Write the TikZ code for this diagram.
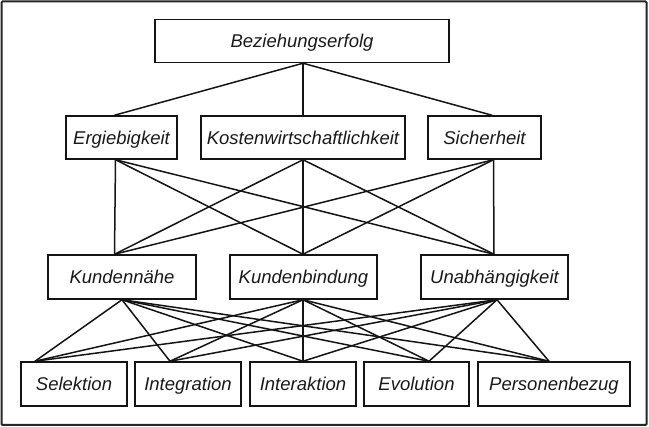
\documentclass[tikz,border=0pt]{standalone}
\usepackage{fontspec}
\setmainfont{Liberation Sans}
\begin{document}
\begin{tikzpicture}[x=1pt,y=-1pt,
  box/.style={draw=black!92, line width=1.5pt, rectangle, inner sep=0pt,
    text height=13.5pt, text depth=0pt,
    minimum height=43pt, font=\fontsize{18.5}{20}\selectfont\itshape, text=black!90},
  link/.style={draw=black!92, line width=1.5pt}]
\useasboundingbox (0,0) rectangle (649,427);
\draw[line width=2pt, black!85, rounded corners=1pt] (1.5,1.5) rectangle (646.5,425);
% top
\node[box, minimum width=294pt] (bez) at (302,41) {Beziehungserfolg};
% second row
\node[box, minimum width=111pt] (erg) at (121.5,137.5) {Ergiebigkeit};
\node[box, minimum width=204pt] (kos) at (303,137.5) {Kostenwirtschaftlichkeit};
\node[box, minimum width=113pt] (sic) at (484.5,137.5) {Sicherheit};
% third row
\node[box, minimum width=148pt, minimum height=44pt] (kn) at (122,277) {Kundennähe};
\node[box, minimum width=147pt, minimum height=44pt] (kb) at (303.5,277) {Kundenbindung};
\node[box, minimum width=147pt, minimum height=44pt] (ua) at (494.5,277) {Unabhängigkeit};
% bottom row
\node[box, minimum width=106pt, minimum height=44pt] (sel) at (74,384) {Selektion};
\node[box, minimum width=106pt, minimum height=44pt] (int) at (188,384) {Integration};
\node[box, minimum width=106pt, minimum height=44pt] (ikt) at (303,384) {Interaktion};
\node[box, minimum width=105pt, minimum height=44pt] (evo) at (416.5,384) {Evolution};
\node[box, minimum width=152pt, minimum height=44pt] (per) at (554,384) {Personenbezug};
% anchor points
\coordinate (bezB) at ([xshift=1pt]bez.south);
\coordinate (ergT) at ([xshift=-7pt]erg.north);
\coordinate (ergB) at ([xshift=-6pt]erg.south);
\coordinate (kosT) at (kos.north);
\coordinate (kosB) at (kos.south);
\coordinate (sicT) at ([xshift=7.5pt]sic.north);
\coordinate (sicB) at ([xshift=9pt]sic.south);
\coordinate (knT) at ([xshift=-7.5pt]kn.north);
\coordinate (knB) at (kn.south);
\coordinate (kbT) at ([xshift=-0.5pt]kb.north);
\coordinate (kbB) at ([xshift=-0.5pt]kb.south);
\coordinate (uaT) at ([xshift=-0.5pt]ua.north);
\coordinate (uaB) at ([xshift=2.5pt]ua.south);
\coordinate (selT) at ([xshift=-39pt]sel.north);
\coordinate (intT) at ([xshift=-18pt]int.north);
\coordinate (iktT) at (ikt.north);
\coordinate (evoT) at ([xshift=12.5pt]evo.north);
\coordinate (perT) at ([xshift=-5pt]per.north);
% connectors level 1
\foreach \t in {ergT,kosT,sicT} \draw[link] (bezB) -- (\t);
% level 2
\foreach \s in {ergB,kosB,sicB}
  \foreach \t in {knT,kbT,uaT}
    \draw[link] (\s) -- (\t);
% level 3
\foreach \s in {knB,kbB,uaB}
  \foreach \t in {selT,intT,iktT,evoT,perT}
    \draw[link] (\s) -- (\t);
\end{tikzpicture}
\end{document}
